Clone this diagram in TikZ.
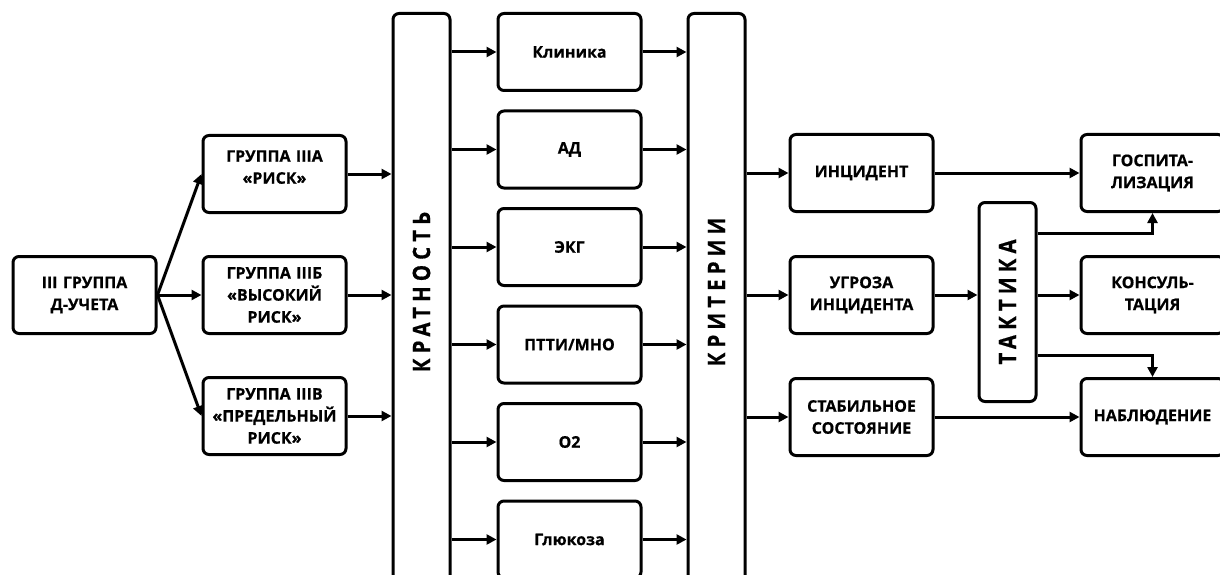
\documentclass[tikz,border=0pt]{standalone}
\usepackage{fontspec}
\setmainfont[BoldFeatures={FakeBold=0.6}]{Open Sans}
\newfontfamily\vfont[LetterSpace=25, BoldFeatures={FakeBold=0.6}]{Open Sans}
\usetikzlibrary{arrows.meta,positioning,calc}

% rotated word, with a lead that lifts it inside a bar
\newcommand\vword[2][0pt]{\rotatebox{90}{\hspace*{#1}\scalebox{0.85}[1]{#2}}}

\tikzset{
  % Rounded box with bold text
  blk/.style={
    rectangle, rounded corners=6pt,
    draw=black, line width=3pt,
    minimum width=143pt, minimum height=77pt,
    text width=136pt, align=center,
    font=\fontsize{16}{22}\selectfont\bfseries
  },
  % Tall bar holding a rotated word
  vbar/.style={
    rectangle, rounded corners=6pt,
    draw=black, line width=3pt,
    minimum width=57pt, minimum height=#1,
    inner sep=0pt, font=\vfont\fontsize{24}{24}\selectfont\bfseries
  },
  % Arrow
  arr/.style={-{Triangle[length=10pt,width=10pt]}, line width=3pt}
}

\begin{document}
\begin{tikzpicture}[x=1pt, y=-1pt, node distance=44pt]
  \useasboundingbox (0,0) rectangle (1220,575);
  \clip (0,0) rectangle (1220,575);
  \coordinate (top) at (0,12);

  % Register group and its three sub-groups
  \node[blk] (dz) at (84.5,295) {III ГРУППА\\Д-УЧЕТА};
  \node[blk, right=44pt of dz] (gb) {ГРУППА IIIБ\\«ВЫСОКИЙ\\РИСК»};
  \node[blk, above=41pt of gb] (ga) {ГРУППА IIIА\\«РИСК»\\[-8pt]\mbox{}};
  \node[blk, below=41pt of gb] (gv) {ГРУППА IIIВ\\«ПРЕДЕЛЬНЫЙ\\РИСК»};

  % Frequency bar (runs off the bottom edge)
  \node[vbar=575pt, anchor=north west] (krat) at ($(gb.east |- top)+(44,0)$) {\vword[18pt]{КРАТНОСТЬ}};

  % Monitored parameters
  \node[blk, right=45pt of krat.north east, anchor=north west] (klin) {Клиника};
  \node[blk, below=17.5pt of klin] (ad)   {АД};
  \node[blk, below=17.5pt of ad]   (ekg)  {ЭКГ};
  \node[blk, below=17.5pt of ekg]  (ptti) {ПТТИ/МНО};
  \node[blk, below=17.5pt of ptti] (oxy)  {О2};
  \node[blk, below=17.5pt of oxy]  (glu)  {Глюкоза};

  % Criteria bar
  \node[vbar=575pt, right=44pt of klin.north east, anchor=north west] (krit) {\vword[18pt]{КРИТЕРИИ}};

  % States
  \node[blk, anchor=west] (ugr) at ($(krit.east |- gb)+(42,0)$) {УГРОЗА\\ИНЦИДЕНТА};
  \node[blk, above=42pt of ugr]  (inc)  {ИНЦИДЕНТ};
  \node[blk, below=42pt of ugr]  (stab) {СТАБИЛЬНОЕ\\СОСТОЯНИЕ};

  % Tactics bar
  \node[vbar=199pt, right=43pt of ugr, yshift=-7pt] (tak) {\vword{ТАКТИКА}};

  % Outcomes
  \node[blk, right=145pt of inc]  (gosp) {ГОСПИТА-\\ЛИЗАЦИЯ};
  \node[blk, right=145pt of ugr]  (kons) {КОНСУЛЬ-\\ТАЦИЯ};
  \node[blk, right=145pt of stab] (nabl) {НАБЛЮДЕНИЕ};

  % Arrows: group to sub-groups
  \draw[arr] (dz.east) -- (ga.west);
  \draw[arr] (dz.east) -- (gb.west);
  \draw[arr] (dz.east) -- (gv.west);

  % Arrows: sub-groups to frequency bar
  \draw[arr] (ga.east) -- (ga.east -| krat.west);
  \draw[arr] (gb.east) -- (gb.east -| krat.west);
  \draw[arr] (gv.east) -- (gv.east -| krat.west);

  % Arrows: frequency bar to parameters
  \draw[arr] (klin.west -| krat.east) -- (klin.west);
  \draw[arr] (ad.west -| krat.east)   -- (ad.west);
  \draw[arr] (ekg.west -| krat.east)  -- (ekg.west);
  \draw[arr] (ptti.west -| krat.east) -- (ptti.west);
  \draw[arr] (oxy.west -| krat.east)  -- (oxy.west);
  \draw[arr] (glu.west -| krat.east)  -- (glu.west);

  % Arrows: parameters to criteria bar
  \draw[arr] (klin.east) -- (klin.east -| krit.west);
  \draw[arr] (ad.east)   -- (ad.east -| krit.west);
  \draw[arr] (ekg.east)  -- (ekg.east -| krit.west);
  \draw[arr] (ptti.east) -- (ptti.east -| krit.west);
  \draw[arr] (oxy.east)  -- (oxy.east -| krit.west);
  \draw[arr] (glu.east)  -- (glu.east -| krit.west);

  % Arrows: criteria bar to states
  \draw[arr] (inc.west -| krit.east)  -- (inc.west);
  \draw[arr] (ugr.west -| krit.east)  -- (ugr.west);
  \draw[arr] (stab.west -| krit.east) -- (stab.west);

  % Arrows: states and tactics to outcomes
  \draw[arr] (inc.east)  -- (gosp.west);
  \draw[arr] (ugr.east)  -- (ugr.east -| tak.west);
  \draw[arr] (stab.east) -- (nabl.west);
  \draw[arr] (kons.west -| tak.east) -- (kons.west);
  \draw[arr] ($(tak.north east)+(0,32)$) -| (gosp.south);
  \draw[arr] ($(tak.south east)+(0,-48)$) -| (nabl.north);

\end{tikzpicture}
\end{document}
